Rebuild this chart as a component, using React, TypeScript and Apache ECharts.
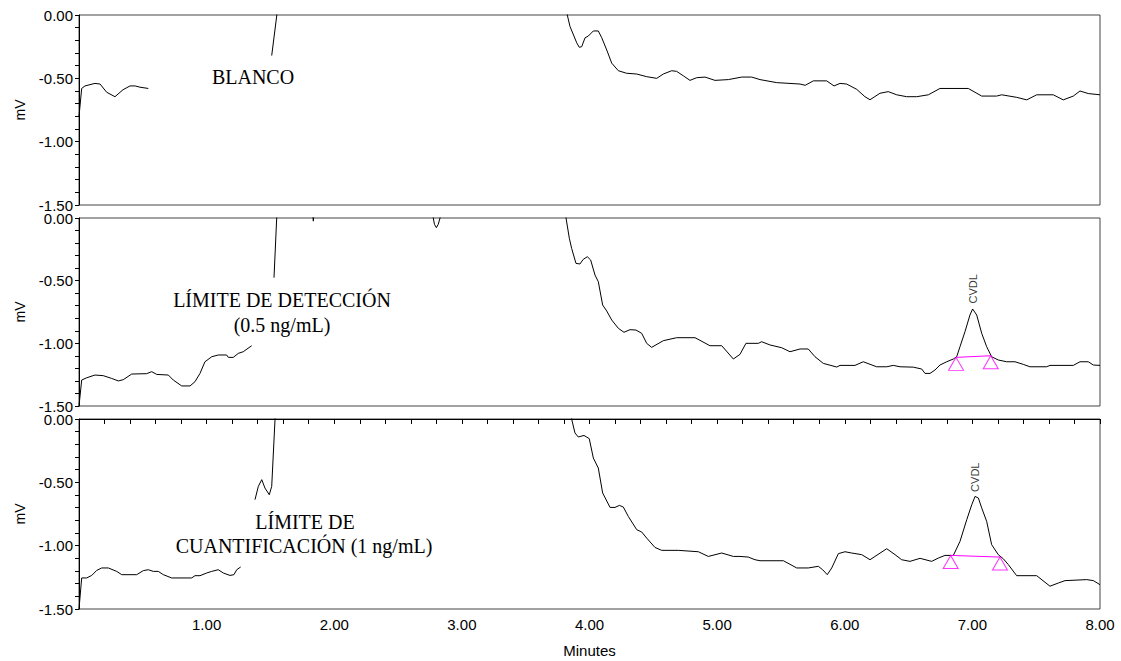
import React, { useEffect, useRef } from "react";
import * as echarts from "echarts";

// ---- Data (time in minutes, signal in mV) ----
const blancoSeg1 = [[0.0,-0.8],[0.021,-0.58],[0.047,-0.56],[0.125,-0.54],[0.165,-0.545],[0.217,-0.61],[0.282,-0.645],[0.345,-0.59],[0.4,-0.56],[0.44,-0.56],[0.478,-0.57],[0.543,-0.58]];
const blancoSeg2 = [[1.51,-0.32],[1.55,0],[1.58,0.4]];
const blancoSeg3 = [[3.8,0.4],[3.826,0],[3.847,-0.09],[3.9,-0.22],[3.92,-0.255],[3.939,-0.25],[3.965,-0.18],[3.991,-0.166],[4.03,-0.126],[4.069,-0.126],[4.096,-0.18],[4.135,-0.276],[4.174,-0.38],[4.226,-0.44],[4.291,-0.46],[4.37,-0.466],[4.448,-0.487],[4.527,-0.5],[4.578,-0.466],[4.644,-0.44],[4.683,-0.445],[4.735,-0.48],[4.787,-0.516],[4.84,-0.495],[4.905,-0.49],[4.983,-0.516],[5.088,-0.51],[5.193,-0.49],[5.271,-0.49],[5.336,-0.51],[5.467,-0.534],[5.65,-0.545],[5.69,-0.555],[5.754,-0.52],[5.858,-0.52],[5.916,-0.56],[5.963,-0.54],[6.015,-0.545],[6.094,-0.587],[6.158,-0.645],[6.198,-0.669],[6.276,-0.618],[6.341,-0.605],[6.407,-0.63],[6.485,-0.645],[6.564,-0.645],[6.655,-0.63],[6.746,-0.58],[6.968,-0.58],[7.073,-0.64],[7.19,-0.64],[7.23,-0.63],[7.347,-0.65],[7.426,-0.67],[7.504,-0.63],[7.634,-0.63],[7.712,-0.67],[7.791,-0.64],[7.843,-0.6],[7.908,-0.62],[8.0,-0.63]];

const lodSeg1 = [[0,-1.5],[0.021,-1.293],[0.06,-1.275],[0.125,-1.253],[0.19,-1.258],[0.256,-1.28],[0.308,-1.3],[0.347,-1.29],[0.413,-1.245],[0.53,-1.242],[0.57,-1.226],[0.609,-1.248],[0.7,-1.253],[0.739,-1.293],[0.805,-1.34],[0.87,-1.34],[0.909,-1.306],[0.948,-1.24],[0.987,-1.147],[1.04,-1.107],[1.091,-1.093],[1.157,-1.093],[1.17,-1.112],[1.209,-1.112],[1.248,-1.08],[1.287,-1.067],[1.353,-1.019]];
const lodSeg2 = [[1.528,-0.476],[1.549,0],[1.58,0.4]];
const lodSeg3 = [[1.83,0.05],[1.836,-0.025],[1.842,0.05]];
const lodSeg4 = [[2.76,0.1],[2.776,0],[2.785,-0.05],[2.8,-0.077],[2.815,-0.05],[2.829,0],[2.84,0.1]];
const lodSeg5 = [[3.8,0.4],[3.816,0],[3.842,-0.162],[3.86,-0.242],[3.894,-0.362],[3.925,-0.367],[3.951,-0.33],[3.983,-0.309],[4.009,-0.335],[4.043,-0.455],[4.069,-0.508],[4.103,-0.694],[4.135,-0.742],[4.174,-0.814],[4.226,-0.88],[4.27,-0.912],[4.317,-0.891],[4.364,-0.894],[4.409,-0.92],[4.448,-1.0],[4.487,-1.032],[4.578,-0.979],[4.683,-0.955],[4.827,-0.955],[4.944,-1.019],[5.036,-1.019],[5.127,-1.125],[5.179,-1.088],[5.226,-1.0],[5.323,-1.0],[5.349,-0.987],[5.414,-1.013],[5.506,-1.035],[5.571,-1.067],[5.65,-1.045],[5.714,-1.045],[5.767,-1.107],[5.832,-1.16],[5.937,-1.189],[5.963,-1.176],[6.08,-1.176],[6.145,-1.147],[6.25,-1.187],[6.329,-1.187],[6.38,-1.176],[6.433,-1.187],[6.537,-1.19],[6.603,-1.205],[6.629,-1.24],[6.668,-1.24],[6.707,-1.213],[6.746,-1.173],[6.799,-1.147],[6.851,-1.125],[6.877,-1.107],[6.903,-1.027],[6.942,-0.907],[6.981,-0.774],[7.002,-0.726],[7.034,-0.774],[7.073,-0.92],[7.112,-1.027],[7.151,-1.107],[7.203,-1.133],[7.269,-1.147],[7.334,-1.147],[7.399,-1.168],[7.451,-1.187],[7.582,-1.187],[7.608,-1.176],[7.791,-1.176],[7.843,-1.147],[7.908,-1.147],[7.948,-1.173],[8.0,-1.176]];
const lodBaseline = [[6.872,-1.112],[7.144,-1.099]];
const lodPeak = [[7.002,-0.726]];

const loqSeg1 = [[0,-1.5],[0.021,-1.255],[0.06,-1.255],[0.1,-1.235],[0.139,-1.195],[0.178,-1.176],[0.23,-1.176],[0.295,-1.203],[0.335,-1.229],[0.452,-1.229],[0.504,-1.197],[0.543,-1.19],[0.582,-1.203],[0.621,-1.203],[0.661,-1.229],[0.726,-1.255],[0.883,-1.255],[0.909,-1.237],[0.948,-1.237],[1.0,-1.216],[1.04,-1.203],[1.091,-1.19],[1.131,-1.216],[1.183,-1.235],[1.214,-1.229],[1.236,-1.19],[1.267,-1.168]];
const loqSeg2 = [[1.379,-0.637],[1.405,-0.532],[1.432,-0.479],[1.457,-0.545],[1.491,-0.598],[1.51,-0.532],[1.536,0],[1.545,0.2]];
const loqSeg3 = [[3.84,0.3],[3.86,0],[3.886,-0.11],[3.912,-0.142],[3.957,-0.13],[3.998,-0.155],[4.03,-0.308],[4.069,-0.387],[4.103,-0.584],[4.161,-0.698],[4.2,-0.698],[4.234,-0.682],[4.265,-0.695],[4.304,-0.769],[4.37,-0.874],[4.409,-0.892],[4.448,-0.94],[4.513,-1.014],[4.566,-1.037],[4.696,-1.037],[4.853,-1.048],[4.931,-1.085],[5.036,-1.058],[5.127,-1.085],[5.179,-1.085],[5.244,-1.09],[5.297,-1.111],[5.336,-1.119],[5.519,-1.119],[5.624,-1.176],[5.714,-1.176],[5.793,-1.163],[5.827,-1.19],[5.863,-1.229],[5.898,-1.176],[5.95,-1.063],[6.002,-1.048],[6.054,-1.058],[6.133,-1.071],[6.198,-1.111],[6.237,-1.085],[6.329,-1.024],[6.394,-1.071],[6.446,-1.111],[6.511,-1.124],[6.59,-1.1],[6.681,-1.124],[6.733,-1.098],[6.785,-1.077],[6.851,-1.077],[6.903,-0.966],[6.956,-0.795],[6.995,-0.677],[7.021,-0.611],[7.047,-0.624],[7.073,-0.702],[7.112,-0.808],[7.151,-0.992],[7.203,-1.071],[7.242,-1.103],[7.282,-1.15],[7.347,-1.237],[7.504,-1.237],[7.608,-1.32],[7.673,-1.295],[7.726,-1.276],[7.896,-1.268],[7.948,-1.276],[8.0,-1.308]];
const loqBaseline = [[6.83,-1.077],[7.216,-1.09]];
const loqPeak = [[7.021,-0.611]];

const peakName = "CVDL";
const panelLabels = ["BLANCO", "LÍMITE DE DETECCIÓN", "(0.5 ng/mL)", "LÍMITE DE", "CUANTIFICACIÓN (1 ng/mL)"];

const SANS = "Liberation Sans, Arial, sans-serif";
const SERIF = "Liberation Serif, Times New Roman, serif";
const MAGENTA = "#ff00ff";

export default function App() {
  const ref = useRef<HTMLDivElement>(null);
  useEffect(() => {
    if (!ref.current) return;
    const chart = echarts.init(ref.current, undefined, { renderer: "svg" });

    const grids = [
      { left: 79, top: 15, width: 1021, height: 190 },
      { left: 79, top: 218, width: 1021, height: 188 },
      { left: 79, top: 419, width: 1021, height: 190 },
    ].map((g) => ({ ...g, show: true, borderColor: "#444", borderWidth: 1, backgroundColor: "transparent" }));

    const xAxes = [0, 1, 2].map((i) => ({
      type: "value",
      gridIndex: i,
      min: 0,
      max: 8,
      interval: 1,
      axisLine: { show: i === 2, lineStyle: { color: "#000", width: 1 } },
      axisTick: { show: i === 2, length: 5, lineStyle: { color: "#000" } },
      minorTick: { show: i === 2, splitNumber: 5, length: 5, lineStyle: { color: "#000" } },
      axisLabel: {
        show: i === 2,
        color: "#000",
        fontSize: 15,
        fontFamily: SANS,
        margin: 8,
        formatter: (v: number) => (v === 0 ? "" : v.toFixed(2)),
      },
      splitLine: { show: false },
      minorSplitLine: { show: false },
      name: i === 2 ? "Minutes" : "",
      nameLocation: "middle",
      nameGap: 34,
      nameTextStyle: { color: "#000", fontSize: 15, fontFamily: SANS },
    }));

    const yAxes = [0, 1, 2].map((i) => ({
      type: "value",
      gridIndex: i,
      min: -1.5,
      max: 0,
      interval: 0.5,
      axisLine: { show: true, lineStyle: { color: "#000", width: 1 } },
      axisTick: { show: true, length: 4, lineStyle: { color: "#000" } },
      minorTick: { show: true, splitNumber: 5, length: 4, lineStyle: { color: "#000" } },
      axisLabel: {
        color: "#000",
        fontSize: 15,
        fontFamily: SANS,
        margin: 6,
        showMinLabel: true,
        showMaxLabel: true,
        formatter: (v: number) => v.toFixed(2),
      },
      splitLine: { show: false },
      minorSplitLine: { show: false },
      name: "mV",
      nameLocation: "middle",
      nameGap: 52,
      nameRotate: 90,
      nameTextStyle: { color: "#000", fontSize: 14, fontFamily: SANS },
    }));

    const trace = (data: number[][], idx: number) => ({
      type: "line",
      xAxisIndex: idx,
      yAxisIndex: idx,
      data,
      symbol: "none",
      showSymbol: false,
      clip: true,
      silent: true,
      lineStyle: { color: "#000", width: 1 },
      z: 3,
    });

    const baseline = (data: number[][], idx: number) => ({
      type: "line",
      xAxisIndex: idx,
      yAxisIndex: idx,
      data,
      symbol: "none",
      silent: true,
      lineStyle: { color: MAGENTA, width: 1 },
      z: 4,
    });

    const triangles = (data: number[][], idx: number) => ({
      type: "scatter",
      xAxisIndex: idx,
      yAxisIndex: idx,
      data,
      symbol: "triangle",
      symbolSize: [15, 13],
      symbolOffset: [0, 6.5],
      silent: true,
      itemStyle: { color: "rgba(0,0,0,0)", borderColor: MAGENTA, borderWidth: 1 },
      z: 5,
    });

    const peakLabel = (data: number[][], idx: number, dist: number) => ({
      type: "scatter",
      xAxisIndex: idx,
      yAxisIndex: idx,
      data,
      symbolSize: 1,
      silent: true,
      itemStyle: { color: "rgba(0,0,0,0)" },
      label: {
        show: true,
        formatter: peakName,
        position: "top",
        distance: dist,
        rotate: 90,
        align: "left",
        verticalAlign: "middle",
        fontSize: 11,
        fontFamily: SANS,
        color: "#000",
      },
      z: 6,
    });

    const series = [
      trace(blancoSeg1, 0), trace(blancoSeg2, 0), trace(blancoSeg3, 0),
      trace(lodSeg1, 1), trace(lodSeg2, 1), trace(lodSeg3, 1), trace(lodSeg4, 1), trace(lodSeg5, 1),
      baseline(lodBaseline, 1), triangles(lodBaseline, 1), peakLabel(lodPeak, 1, 5),
      trace(loqSeg1, 2), trace(loqSeg2, 2), trace(loqSeg3, 2),
      baseline(loqBaseline, 2), triangles(loqBaseline, 2), peakLabel(loqPeak, 2, 4),
    ];

    const txt = (text: string, x: number, y: number) => ({
      type: "text",
      x,
      y,
      silent: true,
      style: { text, fill: "#000", font: `20px ${SERIF}`, textAlign: "center", textVerticalAlign: "middle" },
      z: 10,
    });

    chart.setOption({
      animation: false,
      backgroundColor: "#fff",
      grid: grids,
      xAxis: xAxes,
      yAxis: yAxes,
      series,
      graphic: [
        txt(panelLabels[0], 253, 77),
        txt(panelLabels[1], 282, 300),
        txt(panelLabels[2], 282, 325),
        txt(panelLabels[3], 305, 522),
        txt(panelLabels[4], 304, 546),
      ],
    });
    return () => chart.dispose();
  }, []);

  return <div ref={ref} style={{ position: "absolute", left: 0, top: 0, width: 1121, height: 661 }} />;
}
